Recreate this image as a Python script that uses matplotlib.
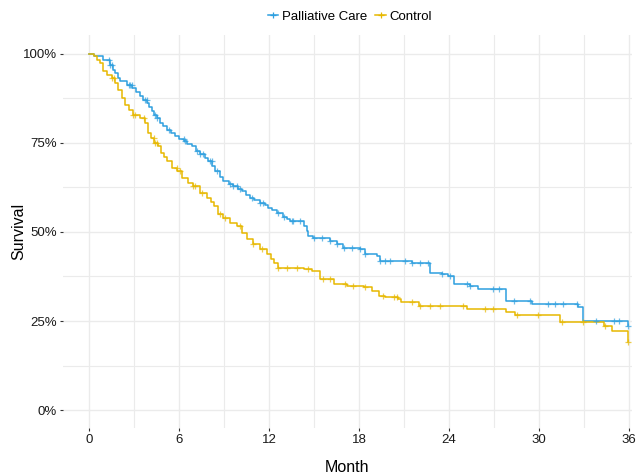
import numpy as np
import matplotlib
matplotlib.use('Agg')
import matplotlib.pyplot as plt
from matplotlib.ticker import MultipleLocator, FuncFormatter

plt.rcParams['font.family'] = ['Liberation Sans', 'DejaVu Sans']

# Kaplan-Meier steps (month, survival %)
pc_time = [0, 0.3, 0.95, 1.4, 1.6, 1.73, 1.9, 2.07, 2.5, 2.85, 3.1, 3.4, 3.6, 3.85, 4.0,
           4.18, 4.35, 4.5, 4.73, 4.95, 5.18, 5.45, 5.73, 6.0, 6.3, 6.55, 6.85, 7.1, 7.4,
           7.7, 7.95, 8.2, 8.4, 8.7, 8.95, 9.3, 9.6, 9.9, 10.2, 10.45, 10.7, 11.0, 11.4,
           11.7, 11.95, 12.2, 12.5, 12.9, 13.2, 13.4, 14.3, 14.5, 14.6, 14.9, 16.07, 16.5,
           16.95, 18.07, 18.4, 19.2, 19.4, 21.5, 22.7, 23.5, 23.95, 24.3, 25.4, 25.95,
           27.8, 29.5, 32.6, 32.96, 35.96]
pc_surv = [100, 99.2, 98.3, 96.9, 95.5, 94.6, 93.2, 92.2, 91.3, 90.4, 89.2, 88.0, 87.0, 86.2,
           85.0, 83.8, 82.8, 82.0, 80.6, 79.6, 78.7, 77.6, 76.8, 76.0, 75.4, 74.7, 74.0,
           72.8, 71.7, 70.7, 69.8, 68.4, 67.0, 65.5, 64.2, 63.4, 62.8, 62.0, 61.4, 60.4,
           59.6, 58.9, 58.2, 57.4, 56.8, 56.0, 55.4, 54.2, 53.5, 53.0, 51.6, 50.2, 48.8,
           48.4, 47.4, 46.5, 45.6, 45.1, 43.7, 43.2, 41.8, 41.4, 38.6, 38.1, 37.6, 35.3,
           34.8, 33.9, 30.6, 29.7, 28.8, 25.0, 23.6]
pc_censor = [1.29, 1.4, 1.51, 2.62, 2.73, 2.84, 3.73, 3.84, 4.4, 4.51, 5.29, 6.29, 6.4,
             7.18, 7.4, 7.62, 8.07, 8.18, 8.51, 9.4, 9.62, 9.84, 10.07, 10.84, 11.4, 11.62,
             12.62, 12.96, 13.51, 13.62, 14.07, 14.96, 15.5, 16.07, 16.5, 16.96, 17.5,
             18.07, 18.4, 19.4, 19.7, 20.07, 21.07, 21.5, 22.07, 22.6, 23.5, 24.07, 25.2,
             25.4, 26.96, 27.3, 28.3, 29.4, 30.6, 31.07, 31.6, 32.5, 33.8, 35.0, 35.3, 35.96]

ctl_time = [0, 0.3, 0.5, 0.73, 0.95, 1.18, 1.5, 1.73, 1.95, 2.18, 2.4, 2.62, 2.95, 3.4, 3.73,
            3.95, 4.1, 4.3, 4.6, 4.8, 5.0, 5.18, 5.5, 5.85, 6.18, 6.6, 6.95, 7.4, 7.85, 8.1,
            8.3, 8.6, 8.95, 9.4, 9.85, 10.2, 10.5, 10.95, 11.4, 11.85, 12.1, 12.3, 12.6,
            14.3, 14.85, 15.4, 16.3, 17.2, 18.3, 18.85, 19.3, 19.7, 20.6, 20.8, 22.0,
            25.2, 27.8, 28.4, 31.4, 34.3, 34.85, 35.96]
ctl_surv = [100, 99.2, 98.3, 97.4, 95.0, 94.1, 93.2, 91.8, 89.9, 87.6, 85.7, 84.3, 82.9,
            82.0, 80.6, 77.8, 76.2, 75.0, 74.0, 72.2, 71.0, 69.8, 68.0, 67.0, 65.2, 63.8,
            62.8, 61.0, 59.6, 58.4, 57.2, 54.9, 54.0, 52.6, 51.6, 49.8, 47.9, 46.5, 45.1,
            43.7, 42.5, 41.4, 40.0, 39.5, 39.0, 36.7, 35.3, 34.8, 34.4, 33.4, 32.0, 31.6,
            31.1, 30.2, 29.2, 28.5, 27.4, 26.6, 24.6, 23.6, 22.2, 19.1]
ctl_censor = [1.51, 1.62, 2.95, 3.07, 3.62, 4.29, 4.4, 4.51, 5.84, 6.07, 6.95, 7.07, 7.51,
              8.73, 9.07, 10.07, 10.95, 11.51, 12.62, 13.18, 13.84, 14.62, 15.62, 16.07,
              17.07, 17.62, 18.4, 19.62, 20.3, 20.5, 21.5, 22.07, 22.7, 23.4, 24.96, 26.4,
              26.96, 28.5, 29.96, 31.5, 32.96, 34.4, 35.96]

groups = ['Palliative Care', 'Control']
colors = ['#2E9FDF', '#E7B800']

fig = plt.figure(figsize=(6.36, 4.75), dpi=100)
ax = fig.add_axes([63 / 636, 47 / 475, 569 / 636, 393 / 475])

series = [(pc_time, pc_surv, pc_censor), (ctl_time, ctl_surv, ctl_censor)]
handles = []
for (t, s, c), name, col in zip(series, groups, colors):
    t = np.array(t)
    s = np.array(s)
    ax.step(t, s, where='post', color=col, lw=1.1, zorder=3)
    idx = np.searchsorted(t, c, side='right') - 1
    ax.plot(c, s[idx], ls='none', marker='+', ms=5, mew=0.9, color=col, alpha=0.7, zorder=4)
    h, = ax.plot([], [], color=col, lw=1.1, marker='+', ms=5, mew=0.9)
    handles.append(h)

ax.set_xlim(-1.75, 36.2)
ax.set_ylim(-5, 105.2)
ax.xaxis.set_major_locator(MultipleLocator(6))
ax.xaxis.set_minor_locator(MultipleLocator(3))
ax.yaxis.set_major_locator(MultipleLocator(25))
ax.yaxis.set_minor_locator(MultipleLocator(12.5))
ax.yaxis.set_major_formatter(FuncFormatter(lambda v, p: f'{v:.0f}%'))

ax.grid(which='major', color='#EBEBEB', lw=1.0)
ax.grid(which='minor', color='#EBEBEB', lw=0.8)
ax.set_axisbelow(True)
for sp in ax.spines.values():
    sp.set_visible(False)
ax.tick_params(which='major', length=2.5, width=0.8, color='#333333',
               labelsize=9.5, labelcolor='#1a1a1a', pad=2)
ax.tick_params(which='minor', length=0)

ax.set_xlabel('Month', fontsize=11.5, labelpad=10)
ax.set_ylabel('Survival', fontsize=11.5)
ax.yaxis.set_label_coords(-37 / 569, 0.5)

fig.legend(handles, groups, loc='center', bbox_to_anchor=(350 / 636, 1 - 17 / 475),
           ncol=2, frameon=False, fontsize=9.5, handlelength=0.8, handletextpad=0.3,
           columnspacing=0.6)

fig.savefig('out.png', dpi=100)
